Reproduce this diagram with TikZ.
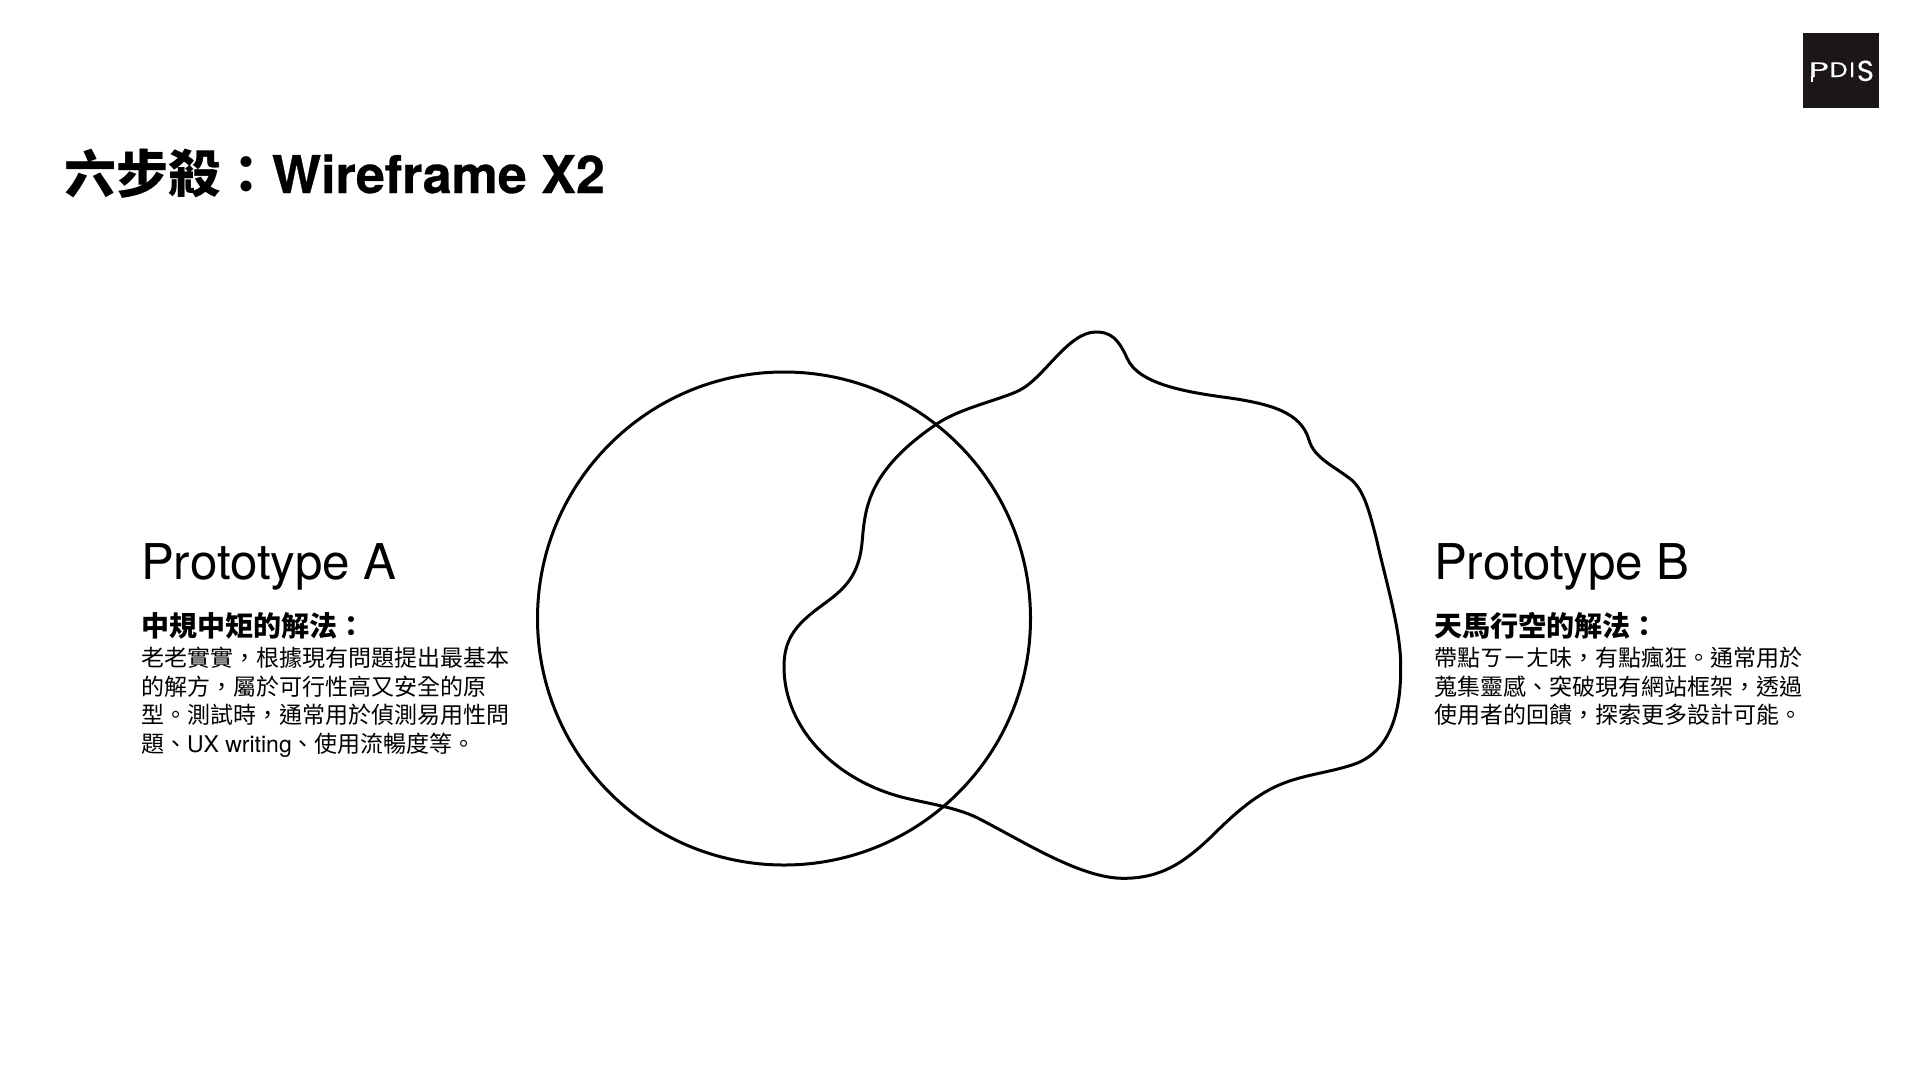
\documentclass[tikz,border=0pt]{standalone}
\usepackage{fontspec}
\setmainfont{Noto Sans CJK TC}
\newfontfamily\latinf{TeX Gyre Heros}
\newfontfamily\latinh[FakeBold=0.6]{TeX Gyre Heros Bold}
\newfontfamily\logof[FakeBold=0.3]{Poppins}
\definecolor{logobg}{HTML}{1A1716}
\tikzset{
  txt/.style={anchor=base west,inner sep=0pt,outer sep=0pt,text=black},
  titletxt/.style={txt,font=\fontsize{52}{60}\selectfont\bfseries},
  prototxt/.style={txt,font=\fontsize{49.3}{56}\selectfont\latinf},
  headtxt/.style={txt,font=\fontsize{28}{34}\selectfont\bfseries},
  bodytxt/.style={txt,font=\fontsize{23}{28}\selectfont},
  outline/.style={draw=black,line width=3pt,fill=none},
}
\begin{document}
\begin{tikzpicture}[x=1pt,y=-1pt]
\useasboundingbox (0,0) rectangle (1920,1080);
\node[fill=logobg,minimum width=76pt,minimum height=75pt,inner sep=0pt,anchor=north west] (logo) at (1803,33) {};
\node[anchor=base west,inner sep=0pt,text=white,font=\fontsize{21}{24}\selectfont\logof] (logotext) at (1808.5,77) {\scalebox{1.65}[1]{P}\kern1pt\scalebox{1.2}[1]{D}\kern2pt I\kern2pt\raisebox{-4pt}{\scalebox{1.4}[1.38]{S}}};
\draw[white,line width=2.4pt] (1811.8,76) -- (1811.8,82);
\node[titletxt] (title) at (64,193) {六步殺：{\latinh Wireframe X2}};
\node[prototxt] (protoa) at (141,579) {Prototype A};
\node[headtxt] (heada) at (141,636) {中規中矩的解法：};
\node[bodytxt] (a1) at (141,666.5) {老老實實，根據現有問題提出最基本};
\node[bodytxt] (a2) at (141,695) {的解方，屬於可行性高又安全的原};
\node[bodytxt] (a3) at (141,723.5) {型。測試時，通常用於偵測易用性問};
\node[bodytxt] (a4) at (141,752) {題、{\latinf UX writing}、使用流暢度等。};
\node[prototxt] (protob) at (1434,579) {Prototype B};
\node[headtxt] (headb) at (1434,636) {天馬行空的解法：};
\node[bodytxt] (b1) at (1434,666.5) {帶點ㄎㄧㄤ味，有點瘋狂。通常用於};
\node[bodytxt] (b2) at (1434,695) {蒐集靈感、突破現有網站框架，透過};
\node[bodytxt] (b3) at (1434,723.5) {使用者的回饋，探索更多設計可能。};
\draw[outline] (784,618.5) circle[radius=246.5];
\draw[outline] (1096,332)
 .. controls (1110,332) and (1118,338) .. (1127,358)
 .. controls (1138,384) and (1185,392) .. (1230,398)
 .. controls (1270,404) and (1301,412) .. (1309,440)
 .. controls (1314,458) and (1334,466) .. (1351.7,480)
 .. controls (1364,491) and (1369,510) .. (1376.7,540)
 .. controls (1386,582) and (1401,630) .. (1400.7,667)
 .. controls (1401,715) and (1389,750) .. (1356.7,763.3)
 .. controls (1333,772) and (1307,774) .. (1283.3,783.3)
 .. controls (1258,793) and (1236,812) .. (1213,835)
 .. controls (1183,864) and (1160,878.3) .. (1123.3,878.3)
 .. controls (1080,878.3) and (1023,841) .. (976.7,817.5)
 .. controls (955,807) and (925,803) .. (903.3,797.5)
 .. controls (835,780) and (784,728) .. (784,666.7)
 .. controls (784,640) and (795,626) .. (816.7,609.3)
 .. controls (840,592) and (858,581) .. (862,543.3)
 .. controls (865,510) and (866,472) .. (936.7,424)
 .. controls (960,408) and (1003,399) .. (1020,390)
 .. controls (1045,377) and (1068,332) .. (1096,332) -- cycle;
\end{tikzpicture}
\end{document}
